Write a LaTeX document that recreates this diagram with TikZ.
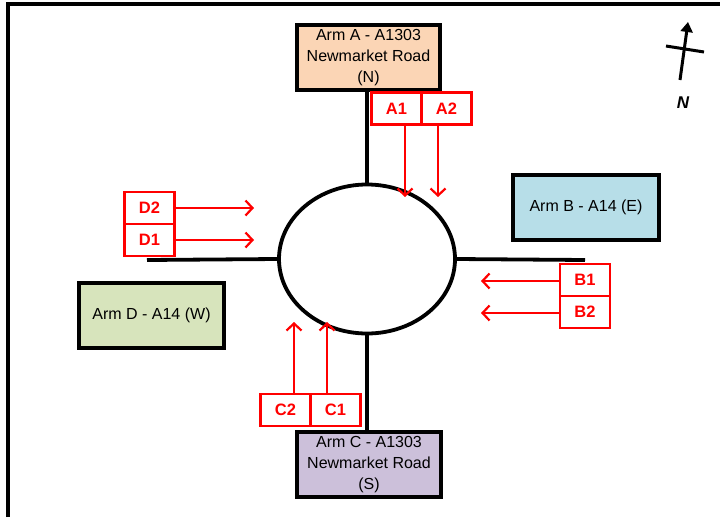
\documentclass[tikz,border=0pt]{standalone}
\usepackage{fontspec}
\setmainfont{Liberation Sans}
\usetikzlibrary{arrows.meta,shapes.geometric}
\definecolor{armA}{HTML}{FBD5B5}
\definecolor{armB}{HTML}{B7DEE8}
\definecolor{armC}{HTML}{CCC0DA}
\definecolor{armD}{HTML}{D7E4BC}
\definecolor{rd}{HTML}{FF0000}
\begin{document}
\begin{tikzpicture}[x=1pt,y=-1pt,
  armbox/.style={draw=black,line width=3.5pt,minimum width=#1,inner sep=0pt,align=center,font=\fontsize{16}{21}\selectfont},
  lbl/.style={draw=rd,line width=2.4pt,text=rd,minimum width=50pt,minimum height=32pt,inner sep=0pt,font=\bfseries\fontsize{16.5}{18}\selectfont},
  road/.style={line width=3.8pt},
  flow/.style={draw=rd,line width=2.2pt,-{Straight Barb[length=7pt,width=15pt,line width=2.2pt]}}]
\useasboundingbox (0,0) rectangle (720,517);
% frame
\draw[line width=3.5pt] (8,517) -- (8,4) -- (720,4);
% roundabout
\node[draw,line width=3.8pt,ellipse,minimum width=176pt,minimum height=149pt,inner sep=0pt] (rb) at (367,259) {};
% arm boxes
\node[armbox=143pt,minimum height=65pt,fill=armA] (A) at (368.5,57.5) {Arm A - A1303\\Newmarket Road\\(N)};
\node[armbox=144pt,minimum height=65pt,fill=armC] (C) at (369,464.5) {Arm C - A1303\\Newmarket Road\\(S)};
\node[armbox=146pt,minimum height=65pt,fill=armB] (B) at (586,207.5) {Arm B - A14 (E)};
\node[armbox=145pt,minimum height=65pt,fill=armD] (D) at (151.5,315.5) {Arm D - A14 (W)};
% roads
\coordinate (wend) at (147,260);
\coordinate (eend) at (585,260);
\draw[road] (A.south -| rb.north) -- (rb.north);
\draw[road] (rb.south) -- (C.north -| rb.south);
\draw[road] (wend) -- (rb.west);
\draw[road] (rb.east) -- (eend);
% labels
\node[lbl] (A1) at (396.5,108.5) {A1};
\node[lbl] (A2) at (446.5,108.5) {A2};
\node[lbl] (D2) at (149.5,208) {D2};
\node[lbl] (D1) at (149.5,240) {D1};
\node[lbl] (B1) at (585,280) {B1};
\node[lbl] (B2) at (585,312) {B2};
\node[lbl] (C2) at (285.5,410) {C2};
\node[lbl] (C1) at (335.5,410) {C1};
% flow arrows
\coordinate (a1e) at (405,197);
\coordinate (a2e) at (438,197);
\coordinate (d2e) at (254,208);
\coordinate (d1e) at (254,240);
\coordinate (b1e) at (481,281);
\coordinate (b2e) at (481,313);
\coordinate (c2e) at (294,322);
\coordinate (c1e) at (327,322);
\draw[flow] (A1.south -| a1e) -- (a1e);
\draw[flow] (A2.south -| a2e) -- (a2e);
\draw[flow] (D2.east) -- (d2e);
\draw[flow] (D1.east) -- (d1e);
\draw[flow] (B1.west |- b1e) -- (b1e);
\draw[flow] (B2.west |- b2e) -- (b2e);
\draw[flow] (C2.north -| c2e) -- (c2e);
\draw[flow] (C1.north -| c1e) -- (c1e);
% north arrow
\coordinate (ns) at (680,80);
\coordinate (nn) at (688,22);
\draw[line width=3pt,-{Triangle[length=10pt,width=12pt]}] (ns) -- (nn);
\coordinate (cw) at (666,46);
\coordinate (ce) at (704,52);
\draw[line width=3pt] (cw) -- (ce);
\node[font=\bfseries\itshape\fontsize{17}{18}\selectfont] (N) at (683,103) {N};
\end{tikzpicture}
\end{document}
